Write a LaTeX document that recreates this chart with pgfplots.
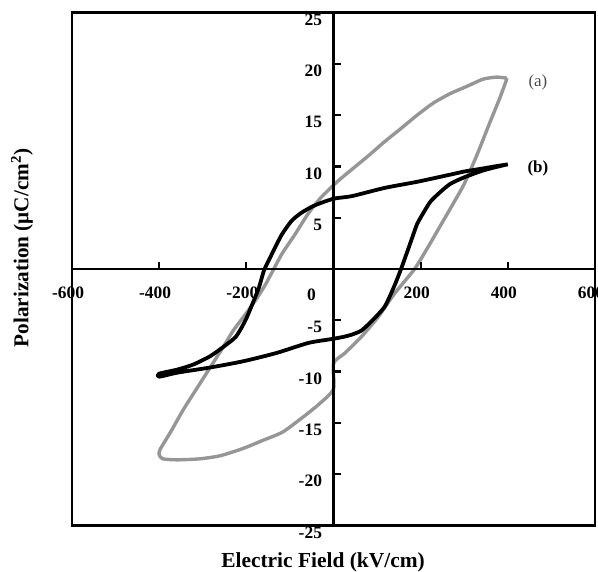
\documentclass[border=0pt]{standalone}
\usepackage{pgfplots}
\pgfplotsset{compat=1.18}
\usepackage{fontspec}
\setmainfont{Liberation Serif}
\definecolor{loopgray}{RGB}{150,150,150}
\begin{document}
\begin{tikzpicture}
\path[use as bounding box] (0,0) rectangle (598bp,572bp);
\begin{axis}[
  at={(72bp,46.5bp)}, anchor=south west,
  scale only axis, width=523bp, height=513bp,
  xmin=-600, xmax=600, ymin=-25, ymax=25,
  axis lines=middle, axis line style={-, line width=2.3bp, black},
  axis on top,
  xtick={-600,-400,-200,200,400,600},
  xticklabels={-600,-400,-200,200,400,600},
  ytick={-25,-20,-15,-10,-5,5,10,15,20,25},
  yticklabels={-25,-20,-15,-10,-5,5,10,15,20,25},
  tick align=inside, major tick length=7bp,
  tick style={line width=2.3bp, black},
  xticklabel style={font=\bfseries\fontsize{17.5}{20}\selectfont, anchor=north, yshift=-14bp, xshift=-4bp},
  yticklabel style={font=\bfseries\fontsize{17.5}{20}\selectfont, anchor=east, xshift=-8bp, yshift=-7bp},
]
\addplot[loopgray, line width=3.4bp, line join=round, smooth, tension=0.4] coordinates {
(398,18.6) (374,18.7) (343,18.5) (306,17.8) (268,17.1) (230,16.2) (192,15.0) (155,13.7) (117,12.4) (79,11.0) (42,9.7) (11,8.6) (-28,7.0) (-58,5.4) (-88,3.4) (-118,1.5) (-137,0) (-156,-1.5) (-175,-2.8) (-200,-4.3) (-230,-6.0) (-253,-7.6) (-283,-9.6) (-313,-11.6) (-343,-13.6) (-374,-15.9) (-398,-17.6) (-400,-18.1) (-392,-18.5) (-358,-18.6) (-306,-18.5) (-260,-18.2) (-208,-17.5) (-162,-16.7) (-117,-15.9) (-72,-14.5) (-34,-13.2) (0,-11.7) (0,-9.2) (26,-8.2) (64,-6.6) (102,-4.7) (140,-2.4) (186,0) (215,2.0) (245,4.2) (275,6.4) (300,8.3) (328,11.0) (358,14.2) (381,16.6) (395,18.2) (398,18.6)
};
\addplot[black, line width=3.8bp, line join=round, smooth, tension=0.4] coordinates {
(400,10.2) (370,10.0) (343,9.8) (300,9.5) (268,9.2) (192,8.5) (117,7.9) (42,7.1) (0,6.85) (-43,6.2) (-73,5.5) (-96,4.7) (-118,3.4) (-134,2.1) (-149,0.8) (-160,-0.2) (-171,-1.8) (-186,-3.4) (-202,-5.0) (-224,-6.6) (-253,-7.6) (-283,-8.5) (-321,-9.3) (-358,-9.8) (-400,-10.2) (-400,-10.5) (-358,-10.1) (-283,-9.6) (-208,-9.0) (-132,-8.2) (-57,-7.2) (0,-6.8) (34,-6.5) (64,-6.0) (94,-4.8) (117,-3.7) (132,-2.4) (143,-1.3) (155,0) (166,1.3) (181,3.1) (192,4.4) (208,5.6) (223,6.6) (245,7.5) (268,8.3) (298,8.9) (343,9.6) (389,10.1) (400,10.2)
};
\node[font=\fontsize{17}{20}\selectfont, text=black!70] at (axis cs:469,18.2) {(a)};
\node[font=\bfseries\fontsize{17}{20}\selectfont] at (axis cs:469,9.8) {(b)};
\node[font=\bfseries\fontsize{17.5}{20}\selectfont] at (axis cs:0,0) [xshift=-22bp, yshift=-26bp] {0};
\end{axis}
\draw[line width=2.8bp] (72bp,46.5bp) rectangle (595bp,559.5bp);
\node[font=\bfseries\fontsize{21.5}{25}\selectfont] at (323bp,10bp) {Electric Field (kV/cm)};
\node[rotate=90, font=\bfseries\fontsize{21.3}{25}\selectfont] at (22bp,324bp) {Polarization (μC/cm\textsuperscript{2})};
\end{tikzpicture}
\end{document}
